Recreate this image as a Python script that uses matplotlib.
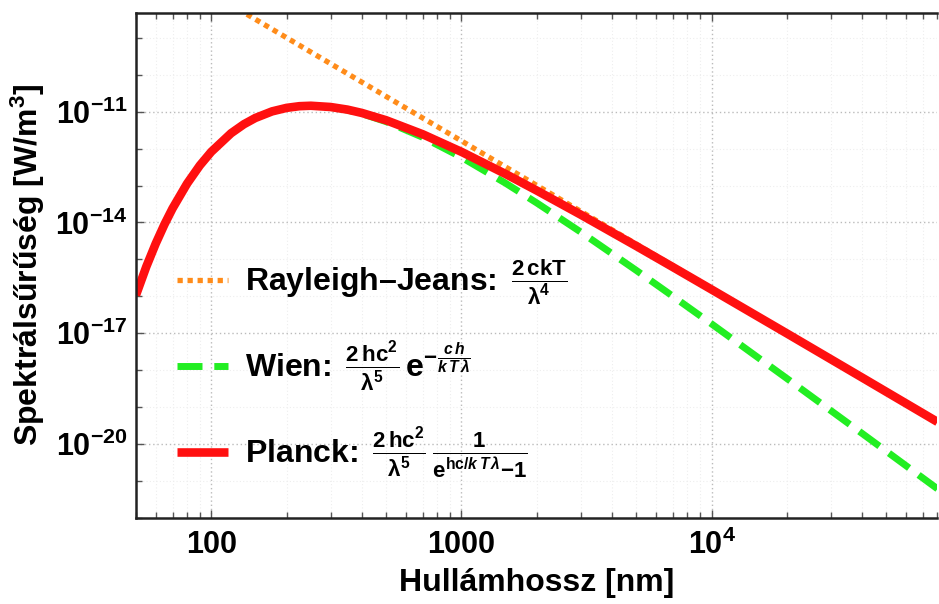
import matplotlib
matplotlib.use("Agg")
import matplotlib.pyplot as plt

# wavelengths in nm, spectral density values
wavelength = [50, 55, 60, 65, 70, 80, 90, 100, 120, 135, 150, 175, 200, 225, 250,
              300, 350, 400, 500, 700, 1000, 1500, 2000, 3000, 5000, 7000, 10000,
              20000, 40000, 80000]
planck = [1.07e-16, 6.35e-16, 2.69e-15, 8.86e-15, 2.39e-14, 1.12e-13, 3.50e-13,
          8.20e-13, 2.61e-12, 4.57e-12, 6.76e-12, 1.02e-11, 1.27e-11, 1.41e-11,
          1.45e-11, 1.34e-11, 1.14e-11, 9.25e-12, 5.87e-12, 2.45e-12, 8.18e-13,
          2.06e-13, 7.31e-14, 1.62e-14, 2.29e-15, 6.17e-16, 1.52e-16, 9.82e-18,
          6.24e-19, 3.93e-20]
wien = [1.07e-16, 6.35e-16, 2.69e-15, 8.86e-15, 2.39e-14, 1.12e-13, 3.50e-13,
        8.20e-13, 2.61e-12, 4.57e-12, 6.76e-12, 1.02e-11, 1.27e-11, 1.40e-11,
        1.44e-11, 1.32e-11, 1.11e-11, 8.83e-12, 5.38e-12, 2.03e-12, 5.82e-13,
        1.16e-13, 3.38e-14, 5.48e-15, 5.02e-16, 1.00e-16, 1.78e-17, 5.91e-19,
        1.91e-20, 6.05e-22]

rj_wavelength = [100, 200, 500, 1000, 2000, 5000, 10000, 20000, 40000, 80000]
rayleigh_jeans = [1.62e-8, 1.01e-9, 2.59e-11, 1.62e-12, 1.01e-13, 2.59e-15,
                  1.62e-16, 1.01e-17, 6.34e-19, 3.96e-20]

x_ticks = [100, 1000, 10000]
x_labels = ["100", "1000", r"$10^4$"]
y_ticks = [1e-20, 1e-17, 1e-14, 1e-11]
y_labels = [r"$10^{-20}$", r"$10^{-17}$", r"$10^{-14}$", r"$10^{-11}$"]
y_minor = [1e-22, 1e-21, 1e-19, 1e-18, 1e-16, 1e-15, 1e-13, 1e-12, 1e-10, 1e-9]

labels = [
    r"Rayleigh–Jeans: $\,\frac{\mathrm{2\,ckT}}{\mathrm{\lambda}^\mathrm{4}}$",
    r"Wien: $\,\frac{\mathrm{2\,hc}^\mathrm{2}}{\mathrm{\lambda}^\mathrm{5}}\,\mathrm{e}^{\mathrm{-}\frac{c\,h}{k\,T\,\lambda}}$",
    r"Planck: $\,\frac{\mathrm{2\,hc}^\mathrm{2}}{\mathrm{\lambda}^\mathrm{5}}\,\frac{\mathrm{1}}{\mathrm{e}^{\mathrm{hc}/k\,T\,\lambda}\mathrm{-1}}$",
]

plt.rcParams["font.family"] = ["Liberation Sans", "DejaVu Sans"]
plt.rcParams["font.weight"] = "bold"
plt.rcParams["mathtext.fontset"] = "custom"
plt.rcParams["mathtext.rm"] = "Liberation Sans:bold"
plt.rcParams["mathtext.bf"] = "Liberation Sans:bold"
plt.rcParams["mathtext.it"] = "Liberation Sans:italic:bold"

fig = plt.figure(figsize=(9.39, 6.04), dpi=100)
ax = fig.add_axes([0.1448, 0.1429, 0.8536, 0.836])

ax.plot(rj_wavelength, rayleigh_jeans, color="#ff8c1a", lw=3.8,
        dashes=(1.0, 0.9), dash_capstyle="butt", label=labels[0])
ax.plot(wavelength, wien, color="#22ee22", lw=5.0, dashes=(3.6, 1.7),
        dash_capstyle="butt", label=labels[1])
ax.plot(wavelength, planck, color="#ff1010", lw=6.2, solid_capstyle="butt",
        label=labels[2])

ax.set_xscale("log")
ax.set_yscale("log")
ax.set_xlim(50, 8e4)
ax.set_ylim(1e-22, 4.8e-9)

ax.set_xticks(x_ticks)
ax.set_xticklabels(x_labels)
ax.set_yticks(y_ticks)
ax.set_yticklabels(y_labels)
ax.set_yticks(y_minor, minor=True)
ax.yaxis.set_minor_formatter(matplotlib.ticker.NullFormatter())
ax.xaxis.set_minor_formatter(matplotlib.ticker.NullFormatter())

ax.tick_params(which="both", direction="in", top=True, right=False,
               width=1.0, color="#555555")
ax.tick_params(which="major", length=6, labelsize=22)
ax.tick_params(which="minor", length=4)
ax.tick_params(axis="x", which="major", pad=9)
ax.tick_params(axis="y", which="major", pad=6)

ax.grid(True, which="major", ls=(0, (1, 2)), color="#bbbbbb", lw=1.0)
ax.grid(True, which="minor", ls=(0, (1, 2)), color="#eeeeee", lw=0.8)
ax.set_axisbelow(True)

for side in ["left", "bottom", "top"]:
    ax.spines[side].set_linewidth(1.8)
    ax.spines[side].set_color("#222222")
ax.spines["right"].set_visible(False)

ax.set_xlabel("Hullámhossz [nm]", fontsize=23, fontweight="bold", labelpad=5)
ax.set_ylabel("Spektrálsűrűség [W/m$^3$]", fontsize=23, fontweight="bold",
              labelpad=6)

ax.legend(loc="upper left", bbox_to_anchor=(0.035, 0.54), frameon=False,
          fontsize=23, handlelength=1.6, handletextpad=0.55, labelspacing=1.0,
          borderaxespad=0)

fig.savefig("out.png", dpi=100)
